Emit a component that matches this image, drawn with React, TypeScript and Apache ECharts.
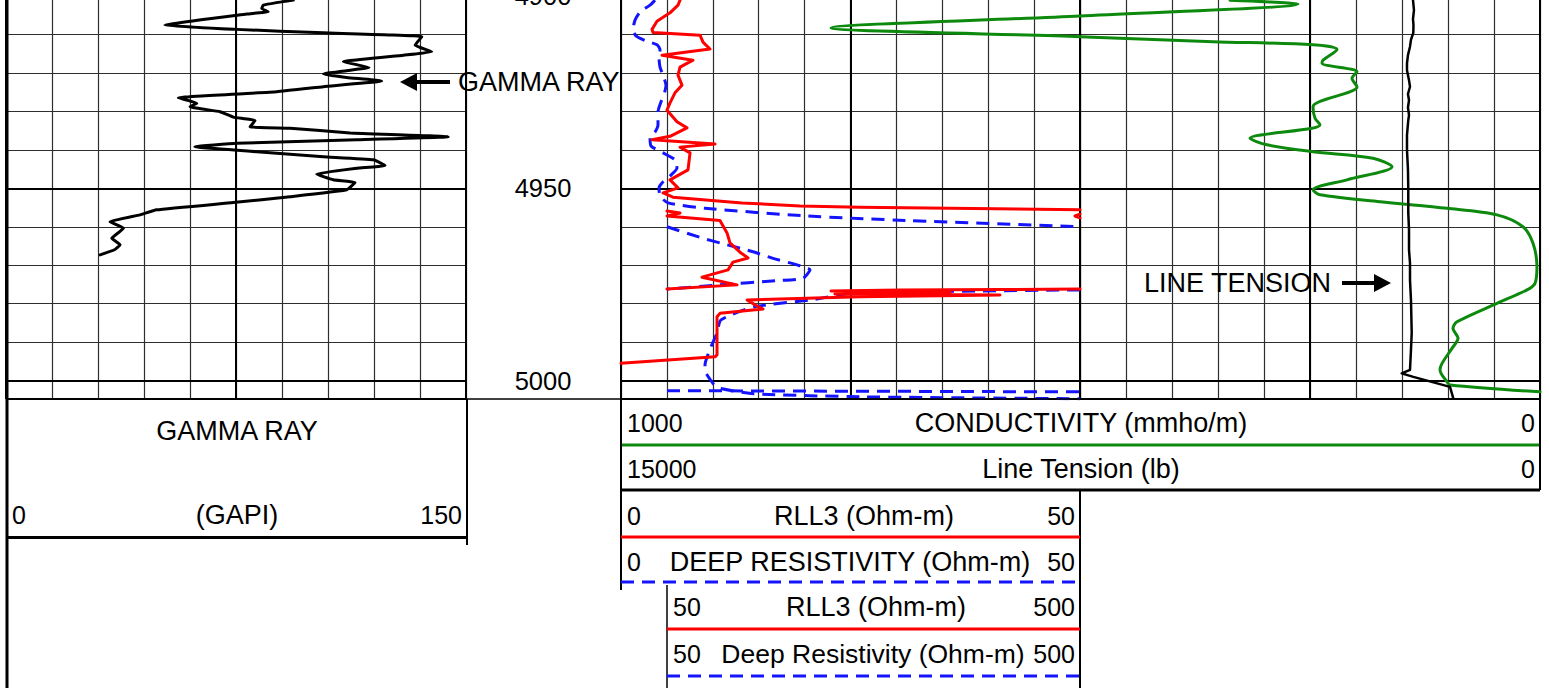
import React, { useEffect, useRef } from "react";
import * as echarts from "echarts";

const FONT = '"Liberation Sans", Arial, sans-serif';
const DEPTH_TOP = 4900;
const DEPTH_BOTTOM = 5004.76;

// [GAPI, depth ft]
const gammaRay: number[][] = [
  [93.7, 4901.1], [83.9, 4902.4], [83.4, 4903.3], [85.5, 4904.1], [78.5, 4904.7], [51.8, 4907.6],
  [75.2, 4908.7], [103.5, 4909.6], [135.6, 4910.6], [133.4, 4912.8], [138.8, 4914.5], [129.6, 4915.4],
  [110.0, 4917.1], [118.4, 4918.6], [103.5, 4920.3], [111.1, 4921.2], [122.5, 4922.1], [103.5, 4923.6],
  [88.3, 4924.9], [56.2, 4926.5], [62.2, 4927.9], [60.0, 4928.8], [69.8, 4930.1], [74.1, 4931.5],
  [81.2, 4932.4], [79.6, 4934.0], [92.6, 4934.4], [112.2, 4935.6], [144.2, 4936.6], [114.4, 4937.4],
  [75.2, 4938.3], [61.6, 4939.2], [81.8, 4940.5], [103.5, 4941.8], [119.8, 4942.6], [123.6, 4944.1],
  [114.4, 4944.8], [101.3, 4946.3], [106.7, 4947.8], [113.8, 4948.5], [111.1, 4950.4], [92.6, 4952.2],
  [74.1, 4953.7], [49.1, 4955.6], [43.7, 4956.9], [33.9, 4958.7], [38.3, 4960.4], [34.5, 4963.0],
  [37.2, 4964.7], [35.5, 4965.9], [30.7, 4967.3],
];

// RLL3 (Ohm-m), 0-50 scale
const rll3Main1: number[][] = [
  [6.43, 4901.1], [6.21, 4902.4], [5.34, 4904.4], [3.92, 4906.6], [3.38, 4908.7], [3.49, 4909.5],
  [8.61, 4910.2], [8.93, 4912.0], [9.69, 4913.8], [4.47, 4915.4], [7.84, 4916.7], [6.43, 4918.5],
  [6.21, 4920.6], [6.64, 4923.2], [5.88, 4925.2], [5.34, 4927.8], [5.01, 4929.7], [6.10, 4932.7],
  [7.19, 4934.3], [5.34, 4936.5], [3.38, 4937.4], [10.24, 4938.5], [6.43, 4939.3], [7.52, 4940.8],
  [7.30, 4945.2], [5.34, 4947.8], [6.21, 4949.9], [4.58, 4951.2], [5.66, 4952.3], [13.18, 4953.8],
  [19.5, 4954.6], [26.03, 4954.9], [50, 4955.6],
];
const rll3Main2: number[][] = [[50, 4956.7], [49.45, 4957.2], [50, 4957.7]];
const rll3Main3: number[][] = [
  [50, 4976.2], [41.28, 4976.3], [30.39, 4976.4], [22.88, 4976.7], [35.84, 4977.1], [23.31, 4977.5],
  [41.28, 4977.7], [26.03, 4978.2], [13.73, 4979.0], [14.81, 4980.6], [15.47, 4981.4], [10.78, 4982.5],
  [10.46, 4983.4], [10.46, 4993.3], [10.24, 4993.8], [0, 4995.5],
];
// RLL3 backup, 50-500 scale
const rll3Backup: number[][] = [
  [50, 4955.9], [64.2, 4956.4], [50, 4957.2], [107.7, 4958.4], [115.4, 4961.6], [118.6, 4964.2],
  [129.5, 4966.6], [138.3, 4968.1], [121.9, 4969.2], [116.5, 4971.2], [88.1, 4973.1], [126.3, 4975.1],
  [50, 4976.2],
];

// Deep resistivity (Ohm-m), 0-50 scale
const deepMain1: number[][] = [
  [3.7, 4901.1], [3.16, 4902.4], [2.07, 4904.2], [1.53, 4906.3], [1.31, 4908.7], [1.63, 4910.4],
  [2.72, 4911.7], [3.92, 4912.7], [4.25, 4914.0], [4.14, 4916.1], [4.25, 4918.5], [4.58, 4920.6],
  [4.9, 4923.2], [4.68, 4925.7], [4.36, 4927.5], [4.03, 4930.1], [4.03, 4933.5], [3.7, 4935.4],
  [3.16, 4936.7], [3.27, 4939.0], [4.58, 4940.8], [5.88, 4942.6], [6.1, 4944.7], [5.34, 4946.8],
  [4.47, 4948.6], [4.14, 4949.9], [4.25, 4952.0], [5.12, 4953.8], [9.15, 4955.2], [20.26, 4957.2],
  [31.37, 4958.4], [50, 4960.0],
];
const deepMain2: number[][] = [
  [50, 4976.4], [25.16, 4977.3], [20.7, 4979.0], [14.49, 4980.8], [10.89, 4984.2], [10.46, 4987.6],
  [9.8, 4991.2], [9.15, 4995.9], [9.15, 4997.2], [10.02, 5000.7], [10.6, 5001.9], [14.5, 5003.4],
  [26.5, 5004.2], [50, 5004.7],
];
// Deep resistivity backup, 50-500 scale
const deepBackup1: number[][] = [
  [50, 4960.0], [89.2, 4963.0], [107.7, 4964.2], [143.7, 4966.5], [165.5, 4968.2], [191.6, 4969.9],
  [205.8, 4971.2], [198.2, 4973.4], [169.9, 4974.0], [107.7, 4975.1], [50, 4976.2],
];
const deepBackup2: number[][] = [[50, 5002.6], [500, 5002.9]];

// Conductivity (mmho/m), 1000 (left) - 0 (right)
const conductivity: number[][] = [
  [337.3, 4901.1], [299.2, 4901.5], [263.3, 4902.1], [500.5, 4905.2], [771.5, 4908.3], [500.5, 4910.6],
  [355.8, 4911.9], [247.0, 4912.7], [220.9, 4913.9], [236.1, 4916.7], [237.2, 4917.5], [199.1, 4919.7],
  [204.6, 4921.4], [199.1, 4923.6], [247.0, 4928.8], [244.8, 4931.8], [239.4, 4933.5], [248.1, 4934.4],
  [315.6, 4937.0], [297.1, 4938.7], [247.0, 4940.5], [181.7, 4942.2], [161.0, 4944.4], [210.0, 4947.8],
  [247.0, 4950.4], [239.4, 4951.7], [174.1, 4953.5], [101.2, 4955.2], [46.8, 4956.9], [18.5, 4960.0],
  [7.6, 4964.3], [3.3, 4970.4], [5.4, 4974.7], [14.1, 4976.4], [46.8, 4979.9], [90.3, 4984.7],
  [94.7, 4986.4], [89.2, 4989.0], [95.8, 4991.6], [106.6, 4995.5], [108.8, 4997.2], [101.2, 5000.3],
  [97.9, 5001.1], [0, 5002.9],
];

// Line tension (lb), 15000 (left) - 0 (right)
const lineTension: number[][] = [
  [2073, 4901.1], [2057, 4903.7], [2073, 4906.0], [2065, 4907.6], [2068, 4909.6], [2106, 4911.4],
  [2122, 4913.2], [2155, 4915.4], [2171, 4917.5], [2171, 4919.3], [2138, 4921.9], [2122, 4923.6],
  [2155, 4925.5], [2138, 4927.1], [2155, 4929.0], [2138, 4931.0], [2150, 4932.3], [2171, 4936.2],
  [2171, 4940.0], [2155, 4945.2], [2150, 4950.4], [2150, 4956.4], [2138, 4960.8], [2138, 4966.0],
  [2122, 4969.4], [2122, 4973.8], [2106, 4979.0], [2094, 4987.6], [2106, 4992.0], [2122, 4997.2],
  [2257, 4998.1], [2068, 4999.0], [1469, 5001.6], [1415, 5004.6],
];

const RED = "#ff0000";
const BLUE = "#1414ff";
const GREEN = "#0d8a0d";
const THIN = "#2e2e2e";
const WORD = 27;
const NUM = 25;

const GRID_TOP = -4.1;
const GRID_H = 403.1;

function thinX(grid: number, max: number, interval: number) {
  return {
    gridIndex: grid, type: "value", min: 0, max, interval, position: "bottom",
    axisLine: { show: false }, axisTick: { show: false }, axisLabel: { show: false },
    splitLine: { show: true, lineStyle: { color: THIN, width: 1.2 } }, z: 0,
  };
}
function thickX(grid: number, max: number, interval: number) {
  return {
    gridIndex: grid, type: "value", min: 0, max, interval, position: "top",
    axisLine: { show: false }, axisTick: { show: false }, axisLabel: { show: false },
    splitLine: { show: true, lineStyle: { color: "#000", width: 2 } }, z: 1,
  };
}
function thinY(grid: number) {
  return {
    gridIndex: grid, type: "value", min: DEPTH_TOP, max: DEPTH_BOTTOM, interval: 10, inverse: true,
    position: "left", axisLine: { show: false }, axisTick: { show: false }, axisLabel: { show: false },
    splitLine: { show: true, lineStyle: { color: THIN, width: 1.2 } }, z: 0,
  };
}
function thickY(grid: number, labels: boolean) {
  return {
    gridIndex: grid, type: "value", min: DEPTH_TOP, max: DEPTH_BOTTOM, interval: 50, inverse: true,
    position: "right", axisLine: { show: false }, axisTick: { show: false },
    axisLabel: labels
      ? {
          show: true, margin: 77, align: "center", color: "#000", fontSize: 25.5, fontFamily: FONT,
          formatter: (v: number) => (Math.abs(v % 50) < 1e-6 ? String(v) : ""),
        }
      : { show: false },
    splitLine: { show: true, lineStyle: { color: "#000", width: 2 } }, z: 1,
  };
}
function hiddenX(grid: number, min: number, max: number, inverse: boolean, position: string) {
  return { gridIndex: grid, type: "value", min, max, inverse, show: false, position, splitLine: { show: false } };
}
function hiddenY(grid: number) {
  return { gridIndex: grid, type: "value", min: DEPTH_TOP, max: DEPTH_BOTTOM, inverse: true, show: false, splitLine: { show: false } };
}

function curve(data: number[][], xi: number, yi: number, color: string, width: number, dashed = false, smooth = 0) {
  return {
    type: "line", xAxisIndex: xi, yAxisIndex: yi, data, showSymbol: false, symbol: "none", silent: true,
    clip: true, animation: false, smooth,
    lineStyle: { color, width, type: dashed ? [13, 8] : "solid", join: "round", cap: dashed ? "butt" : "round" },
    z: 3,
  };
}

function txt(text: string, x: number, y: number, align = "left", size = NUM) {
  return {
    type: "text", z: 100, silent: true,
    style: {
      text, x, y, fill: "#000", fontSize: size, fontFamily: FONT,
      align, textAlign: align, verticalAlign: "middle", textVerticalAlign: "middle",
    },
  };
}
function ln(x1: number, y1: number, x2: number, y2: number, stroke = "#000", lineWidth = 2, dash?: number[]) {
  return {
    type: "line", z: 100, silent: true, shape: { x1, y1, x2, y2 },
    style: { stroke, lineWidth, lineDash: dash },
  };
}

export default function App() {
  const ref = useRef<HTMLDivElement>(null);
  useEffect(() => {
    if (!ref.current) return;
    const chart = echarts.init(ref.current, undefined, { renderer: "svg" });
    const gridBase = { top: GRID_TOP, height: GRID_H, containLabel: false, outerBoundsMode: "none", show: false };
    const graphics = [
      // outer left border
      ln(7, 0, 7, 688, "#000", 3),
      // header top line
      ln(7, 399, 1540, 399, "#000", 1.5),
      // GR header
      ln(467, 399, 467, 545, "#000", 2),
      ln(7, 537.5, 467, 537.5, "#000", 3),
      txt("GAMMA RAY", 237, 431, "center", WORD),
      txt("0", 12, 515, "left"),
      txt("(GAPI)", 237, 515, "center", WORD),
      txt("150", 462, 515, "right"),
      // conductivity / tension header
      txt("1000", 627, 423, "left"),
      txt("CONDUCTIVITY (mmho/m)", 1081, 423, "center", WORD),
      txt("0", 1535, 423, "right"),
      ln(621, 445, 1540, 445, GREEN, 3),
      txt("15000", 627, 469, "left"),
      txt("Line Tension (lb)", 1081, 469, "center", WORD),
      txt("0", 1535, 469, "right"),
      ln(621, 490, 1540, 490, "#000", 3),
      ln(1540, 399, 1540, 490, "#000", 2),
      ln(621, 399, 621, 590, "#000", 2),
      ln(1080, 490, 1080, 688, "#000", 2),
      // resistivity headers
      txt("0", 627, 516, "left"),
      txt("RLL3 (Ohm-m)", 864, 516, "center", WORD),
      txt("50", 1075, 516, "right"),
      ln(621, 537, 1080, 537, RED, 3),
      txt("0", 627, 562, "left"),
      txt("DEEP RESISTIVITY (Ohm-m)", 850, 562, "center", WORD),
      txt("50", 1075, 562, "right"),
      ln(621, 582, 1080, 582, BLUE, 3, [13, 8]),
      ln(667, 585, 667, 688, "#000", 1.5),
      txt("50", 673, 607, "left"),
      txt("RLL3 (Ohm-m)", 876, 607, "center", WORD),
      txt("500", 1075, 607, "right"),
      ln(667, 629, 1080, 629, RED, 3),
      txt("50", 673, 654, "left"),
      txt("Deep Resistivity (Ohm-m)", 873, 654, "center", 26.5),
      txt("500", 1075, 654, "right"),
      ln(667, 676, 1080, 676, BLUE, 3, [13, 8]),
      // annotations
      ln(412, 82, 450, 82, "#000", 4),
      { type: "polygon", z: 100, silent: true, shape: { points: [[400, 82], [417, 73], [417, 91]] }, style: { fill: "#000" } },
      txt("GAMMA RAY", 458, 82, "left", WORD),
      txt("LINE TENSION", 1331, 283, "right", WORD),
      ln(1342, 283, 1378, 283, "#000", 4),
      { type: "polygon", z: 100, silent: true, shape: { points: [[1391, 283], [1374, 274], [1374, 292]] }, style: { fill: "#000" } },
    ];

    chart.setOption({
      animation: false,
      backgroundColor: "#ffffff",
      textStyle: { fontFamily: FONT },
      grid: [
        { ...gridBase, left: 6, width: 460 },
        { ...gridBase, left: 621, width: 459 },
        { ...gridBase, left: 1080, width: 460 },
        { ...gridBase, left: 621, width: 919 },
        { ...gridBase, left: 667, width: 413 },
      ],
      xAxis: [
        thinX(0, 150, 15),
        thickX(0, 150, 75),
        thinX(1, 50, 5),
        thickX(1, 50, 25),
        thinX(2, 10, 1),
        thickX(2, 10, 5),
        hiddenX(3, 0, 1000, true, "bottom"),
        hiddenX(3, 0, 15000, true, "top"),
        hiddenX(4, 50, 500, false, "bottom"),
      ],
      yAxis: [
        thinY(0), thickY(0, true),
        thinY(1), thickY(1, false),
        thinY(2), thickY(2, false),
        hiddenY(3), hiddenY(4),
      ],
      series: [
        curve(gammaRay, 0, 0, "#000", 3, false, 0.12),
        curve(deepMain1, 2, 2, BLUE, 3, true, 0.2),
        curve(deepMain2, 2, 2, BLUE, 3, true, 0.2),
        curve(deepBackup1, 8, 7, BLUE, 3, true, 0.2),
        curve(deepBackup2, 8, 7, BLUE, 3, true),
        curve(rll3Main1, 2, 2, RED, 3),
        curve(rll3Main2, 2, 2, RED, 3),
        curve(rll3Main3, 2, 2, RED, 3),
        curve(rll3Backup, 8, 7, RED, 3),
        curve(conductivity, 6, 6, GREEN, 3, false, 0.3),
        curve(lineTension, 7, 6, "#000", 2.5),
      ],
      graphic: { elements: graphics },
    });
    return () => chart.dispose();
  }, []);
  return <div ref={ref} style={{ position: "absolute", left: 0, top: 0, width: 1549, height: 688, background: "#fff" }} />;
}
